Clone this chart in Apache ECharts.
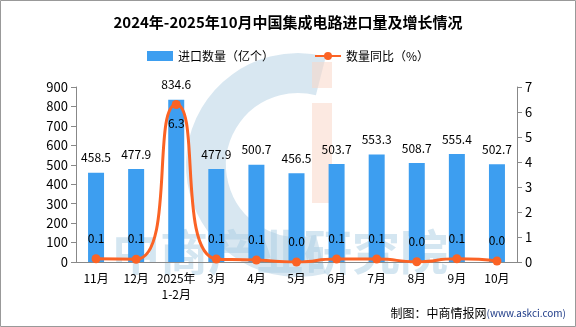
<!DOCTYPE html>
<html><head><meta charset="utf-8">
<script src="https://cdn.jsdelivr.net/npm/echarts@6/dist/echarts.min.js"></script>
<style>html,body{margin:0;padding:0;background:#fff}#c{width:576px;height:327px}</style>
</head><body><div id="c"></div>
<script>
var categories = ['11月','12月','2025年\n1-2月','3月','4月','5月','6月','7月','8月','9月','10月'];
var importQty = [458.5, 477.9, 834.6, 477.9, 500.7, 456.5, 503.7, 553.3, 508.7, 555.4, 502.7];
var yoy = [0.13, 0.11, 6.3, 0.12, 0.08, 0.0, 0.12, 0.12, 0.01, 0.13, 0.04];
var leftTicks = [0, 900, 100];
var rightTicks = [0, 7, 1];

var font = 'Noto Sans CJK SC';
var chart = echarts.init(document.getElementById('c'));
chart.setOption({
  animation: false,
  textStyle: {fontFamily: font},
  title: {
    text: '2024年-2025年10月中国集成电路进口量及增长情况',
    left: 'center', top: 10,
    textStyle: {fontSize: 15, fontWeight: 'bold', color: '#000', fontFamily: font}
  },
  legend: {
    top: 45, left: 'center', itemGap: 40, itemWidth: 26, itemHeight: 10,
    textStyle: {fontSize: 12, color: '#000'},
    data: [{name: '进口数量（亿个）', icon: 'rect'}, {name: '数量同比（%）'}]
  },
  grid: {left: 76, right: 59, top: 87, bottom: 65},
  graphic: [
    {type: 'arc', shape: {cx: 298, cy: 165, r: 92, startAngle: Math.PI * 0.42, endAngle: Math.PI * 1.58}, style: {fill: 'none', stroke: 'rgba(190,215,232,0.6)', lineWidth: 40}, z: 0, silent: true},
    {type: 'rect', shape: {x: 312, y: 62, width: 20, height: 26}, style: {fill: 'rgba(250,215,200,0.55)'}, z: 0, silent: true},
    {type: 'rect', shape: {x: 312, y: 103, width: 20, height: 100}, style: {fill: 'rgba(250,215,200,0.55)'}, z: 0, silent: true},
    {type: 'text', left: 112, top: 228, style: {text: '中商产业研究院', font: 'bold 48px "Noto Sans CJK SC"', fill: 'rgba(170,205,228,0.5)'}, z: 0, silent: true},
    {type: 'rect', shape: {x: 0.5, y: 0.5, width: 575, height: 326}, style: {fill: 'none', stroke: '#999', lineWidth: 1}, z: 100, silent: true},
    {type: 'text', right: 10, bottom: 8, style: {rich: {a: {fontSize: 12, fill: '#000', fontFamily: font}, b: {fontSize: 10, fill: '#1f3c88', fontFamily: font}}, text: '{a|制图：中商情报网}{b|(www.askci.com)}'}, z: 100}
  ],
  xAxis: {
    type: 'category', data: categories,
    axisLine: {lineStyle: {color: '#888'}},
    axisTick: {alignWithLabel: false, lineStyle: {color: '#888'}},
    axisLabel: {color: '#000', fontSize: 12, interval: 0, lineHeight: 16}
  },
  yAxis: [
    {type: 'value', min: leftTicks[0], max: leftTicks[1], interval: leftTicks[2],
     splitLine: {show: false},
     axisLine: {show: true, lineStyle: {color: '#888'}},
     axisTick: {show: true, lineStyle: {color: '#888'}},
     axisLabel: {color: '#000', fontSize: 13}},
    {type: 'value', min: rightTicks[0], max: rightTicks[1], interval: rightTicks[2],
     splitLine: {show: false},
     axisLine: {show: true, lineStyle: {color: '#888'}},
     axisTick: {show: true, lineStyle: {color: '#888'}},
     axisLabel: {color: '#000', fontSize: 13}}
  ],
  series: [
    {name: '进口数量（亿个）', type: 'bar', data: importQty, barWidth: 16,
     itemStyle: {color: '#3d9ef0'},
     label: {show: true, position: 'top', distance: 9, color: '#000', fontSize: 12,
       formatter: function(p){return p.value.toFixed(1);}}},
    {name: '数量同比（%）', type: 'line', yAxisIndex: 1, smooth: 0.6,
     data: yoy.map(function(v, i){
       return i === 2 ? {value: v, label: {position: 'bottom', distance: 8}} : v;
     }),
     symbol: 'circle', symbolSize: 9,
     lineStyle: {color: '#fb6325', width: 3},
     itemStyle: {color: '#fb6325'},
     label: {show: true, position: 'top', distance: 10, color: '#000', fontSize: 12,
       formatter: function(p){return (+p.value).toFixed(1);}},
     z: 5}
  ]
});
</script></body></html>
